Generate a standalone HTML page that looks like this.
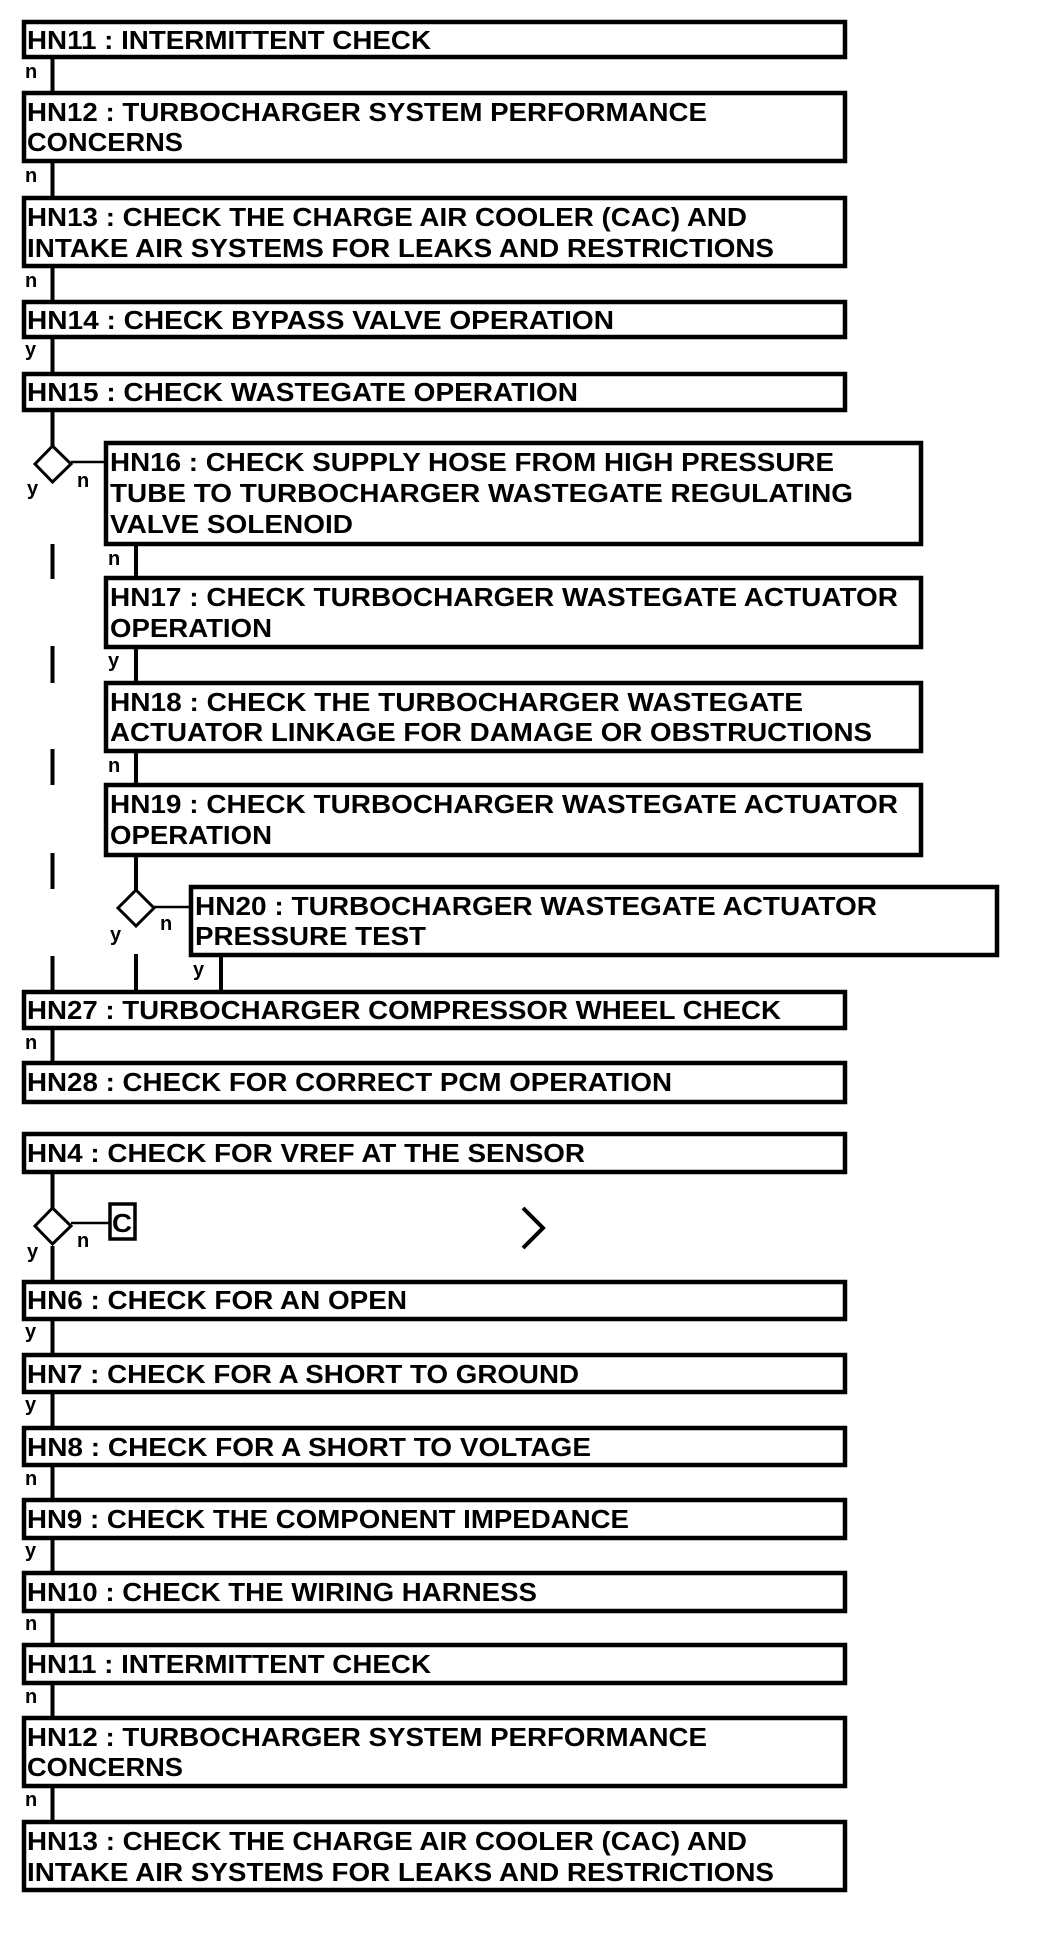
<!DOCTYPE html>
<html><head><meta charset="utf-8"><style>
html,body{margin:0;padding:0;background:#fff;}
svg{display:block;}
text{font-family:"Liberation Sans",Arial,sans-serif;font-weight:bold;fill:#000;}
.b{fill:#fff;stroke:#000;stroke-width:4.5;}
.t{font-size:26px;}
.l{font-size:20px;}
.c{stroke:#000;stroke-width:4;}
.d{fill:#fff;stroke:#000;stroke-width:3;}
</style></head><body>
<svg width="1056" height="1934" viewBox="0 0 1056 1934" xmlns="http://www.w3.org/2000/svg">
<!-- connectors left column -->
<g class="c">
<line x1="52.5" y1="57" x2="52.5" y2="93"/>
<line x1="52.5" y1="161" x2="52.5" y2="198"/>
<line x1="52.5" y1="266" x2="52.5" y2="302"/>
<line x1="52.5" y1="337" x2="52.5" y2="374"/>
<line x1="52.5" y1="410" x2="52.5" y2="446"/>
<line x1="52.5" y1="544" x2="52.5" y2="579"/>
<line x1="52.5" y1="646" x2="52.5" y2="683"/>
<line x1="52.5" y1="749" x2="52.5" y2="785"/>
<line x1="52.5" y1="853" x2="52.5" y2="889"/>
<line x1="52.5" y1="956" x2="52.5" y2="992"/>
<line x1="52.5" y1="1028" x2="52.5" y2="1063"/>
<line x1="52.5" y1="1172" x2="52.5" y2="1208"/>
<line x1="52.5" y1="1246" x2="52.5" y2="1282"/>
<line x1="52.5" y1="1319" x2="52.5" y2="1355"/>
<line x1="52.5" y1="1392" x2="52.5" y2="1428"/>
<line x1="52.5" y1="1465" x2="52.5" y2="1500"/>
<line x1="52.5" y1="1538" x2="52.5" y2="1573"/>
<line x1="52.5" y1="1611" x2="52.5" y2="1645"/>
<line x1="52.5" y1="1683" x2="52.5" y2="1718"/>
<line x1="52.5" y1="1786" x2="52.5" y2="1822"/>
<!-- inner -->
<line x1="136" y1="544" x2="136" y2="578"/>
<line x1="136" y1="647" x2="136" y2="683"/>
<line x1="136" y1="751" x2="136" y2="785"/>
<line x1="136" y1="855" x2="136" y2="890"/>
<line x1="136" y1="954" x2="136" y2="992"/>
<line x1="221" y1="955" x2="221" y2="992"/>
</g>
<g stroke="#000" stroke-width="2.5">
<line x1="71" y1="462" x2="106" y2="462"/>
<line x1="154" y1="907" x2="191" y2="907"/>
<line x1="71" y1="1223" x2="109" y2="1223"/>
</g>
<polygon class="d" points="52.5,446 71,464 52.5,482 35,464"/>
<polygon class="d" points="136,890 154,908 136,926 118,908"/>
<polygon class="d" points="52.5,1208 71,1226 52.5,1244 35,1226"/>
<rect x="110" y="1204" width="25" height="35" fill="#fff" stroke="#000" stroke-width="3.5"/>
<text x="112" y="1232" style="font-size:26px" textLength="20" lengthAdjust="spacingAndGlyphs">C</text>
<polyline points="523,1208 543,1228 523,1248" fill="none" stroke="#000" stroke-width="4"/>

<!-- boxes -->
<rect class="b" x="24" y="22" width="821" height="35"/>
<text class="t" x="27" y="49" textLength="404" lengthAdjust="spacingAndGlyphs">HN11 : INTERMITTENT CHECK</text>
<rect class="b" x="24" y="93" width="821" height="68"/>
<text class="t" x="27" y="121" textLength="680" lengthAdjust="spacingAndGlyphs">HN12 : TURBOCHARGER SYSTEM PERFORMANCE</text>
<text class="t" x="27" y="151" textLength="156" lengthAdjust="spacingAndGlyphs">CONCERNS</text>
<rect class="b" x="24" y="198" width="821" height="68"/>
<text class="t" x="27" y="226" textLength="720" lengthAdjust="spacingAndGlyphs">HN13 : CHECK THE CHARGE AIR COOLER (CAC) AND</text>
<text class="t" x="27" y="257" textLength="747" lengthAdjust="spacingAndGlyphs">INTAKE AIR SYSTEMS FOR LEAKS AND RESTRICTIONS</text>
<rect class="b" x="24" y="302" width="821" height="35"/>
<text class="t" x="27" y="329" textLength="587" lengthAdjust="spacingAndGlyphs">HN14 : CHECK BYPASS VALVE OPERATION</text>
<rect class="b" x="24" y="374" width="821" height="36"/>
<text class="t" x="27" y="401" textLength="551" lengthAdjust="spacingAndGlyphs">HN15 : CHECK WASTEGATE OPERATION</text>

<rect class="b" x="106" y="443" width="815" height="101"/>
<text class="t" x="110" y="471" textLength="724" lengthAdjust="spacingAndGlyphs">HN16 : CHECK SUPPLY HOSE FROM HIGH PRESSURE</text>
<text class="t" x="110" y="502" textLength="743" lengthAdjust="spacingAndGlyphs">TUBE TO TURBOCHARGER WASTEGATE REGULATING</text>
<text class="t" x="110" y="533" textLength="243" lengthAdjust="spacingAndGlyphs">VALVE SOLENOID</text>
<rect class="b" x="106" y="578" width="815" height="69"/>
<text class="t" x="110" y="606" textLength="788" lengthAdjust="spacingAndGlyphs">HN17 : CHECK TURBOCHARGER WASTEGATE ACTUATOR</text>
<text class="t" x="110" y="637" textLength="162" lengthAdjust="spacingAndGlyphs">OPERATION</text>
<rect class="b" x="106" y="683" width="815" height="68"/>
<text class="t" x="110" y="711" textLength="693" lengthAdjust="spacingAndGlyphs">HN18 : CHECK THE TURBOCHARGER WASTEGATE</text>
<text class="t" x="110" y="741" textLength="762" lengthAdjust="spacingAndGlyphs">ACTUATOR LINKAGE FOR DAMAGE OR OBSTRUCTIONS</text>
<rect class="b" x="106" y="785" width="815" height="70"/>
<text class="t" x="110" y="813" textLength="788" lengthAdjust="spacingAndGlyphs">HN19 : CHECK TURBOCHARGER WASTEGATE ACTUATOR</text>
<text class="t" x="110" y="844" textLength="162" lengthAdjust="spacingAndGlyphs">OPERATION</text>
<rect class="b" x="191" y="887" width="806" height="68"/>
<text class="t" x="195" y="915" textLength="682" lengthAdjust="spacingAndGlyphs">HN20 : TURBOCHARGER WASTEGATE ACTUATOR</text>
<text class="t" x="195" y="945" textLength="231" lengthAdjust="spacingAndGlyphs">PRESSURE TEST</text>

<rect class="b" x="24" y="992" width="821" height="36"/>
<text class="t" x="27" y="1019" textLength="754" lengthAdjust="spacingAndGlyphs">HN27 : TURBOCHARGER COMPRESSOR WHEEL CHECK</text>
<rect class="b" x="24" y="1063" width="821" height="39"/>
<text class="t" x="27" y="1091" textLength="645" lengthAdjust="spacingAndGlyphs">HN28 : CHECK FOR CORRECT PCM OPERATION</text>
<rect class="b" x="24" y="1134" width="821" height="38"/>
<text class="t" x="27" y="1162" textLength="558" lengthAdjust="spacingAndGlyphs">HN4 : CHECK FOR VREF AT THE SENSOR</text>
<rect class="b" x="24" y="1282" width="821" height="37"/>
<text class="t" x="27" y="1309" textLength="380" lengthAdjust="spacingAndGlyphs">HN6 : CHECK FOR AN OPEN</text>
<rect class="b" x="24" y="1355" width="821" height="37"/>
<text class="t" x="27" y="1383" textLength="552" lengthAdjust="spacingAndGlyphs">HN7 : CHECK FOR A SHORT TO GROUND</text>
<rect class="b" x="24" y="1428" width="821" height="37"/>
<text class="t" x="27" y="1456" textLength="564" lengthAdjust="spacingAndGlyphs">HN8 : CHECK FOR A SHORT TO VOLTAGE</text>
<rect class="b" x="24" y="1500" width="821" height="38"/>
<text class="t" x="27" y="1528" textLength="602" lengthAdjust="spacingAndGlyphs">HN9 : CHECK THE COMPONENT IMPEDANCE</text>
<rect class="b" x="24" y="1573" width="821" height="38"/>
<text class="t" x="27" y="1601" textLength="510" lengthAdjust="spacingAndGlyphs">HN10 : CHECK THE WIRING HARNESS</text>
<rect class="b" x="24" y="1645" width="821" height="38"/>
<text class="t" x="27" y="1673" textLength="404" lengthAdjust="spacingAndGlyphs">HN11 : INTERMITTENT CHECK</text>
<rect class="b" x="24" y="1718" width="821" height="68"/>
<text class="t" x="27" y="1746" textLength="680" lengthAdjust="spacingAndGlyphs">HN12 : TURBOCHARGER SYSTEM PERFORMANCE</text>
<text class="t" x="27" y="1776" textLength="156" lengthAdjust="spacingAndGlyphs">CONCERNS</text>
<rect class="b" x="24" y="1822" width="821" height="68"/>
<text class="t" x="27" y="1850" textLength="720" lengthAdjust="spacingAndGlyphs">HN13 : CHECK THE CHARGE AIR COOLER (CAC) AND</text>
<text class="t" x="27" y="1881" textLength="747" lengthAdjust="spacingAndGlyphs">INTAKE AIR SYSTEMS FOR LEAKS AND RESTRICTIONS</text>

<!-- labels -->
<g class="l">
<text x="25" y="78">n</text>
<text x="25" y="182">n</text>
<text x="25" y="287">n</text>
<text x="25" y="356">y</text>
<text x="27" y="495">y</text>
<text x="77" y="487">n</text>
<text x="108" y="565">n</text>
<text x="108" y="667">y</text>
<text x="108" y="772">n</text>
<text x="110" y="941">y</text>
<text x="160" y="930">n</text>
<text x="193" y="976">y</text>
<text x="25" y="1049">n</text>
<text x="77" y="1247">n</text>
<text x="27" y="1258">y</text>
<text x="25" y="1338">y</text>
<text x="25" y="1411">y</text>
<text x="25" y="1485">n</text>
<text x="25" y="1557">y</text>
<text x="25" y="1630">n</text>
<text x="25" y="1703">n</text>
<text x="25" y="1806">n</text>
</g>
</svg>
</body></html>
